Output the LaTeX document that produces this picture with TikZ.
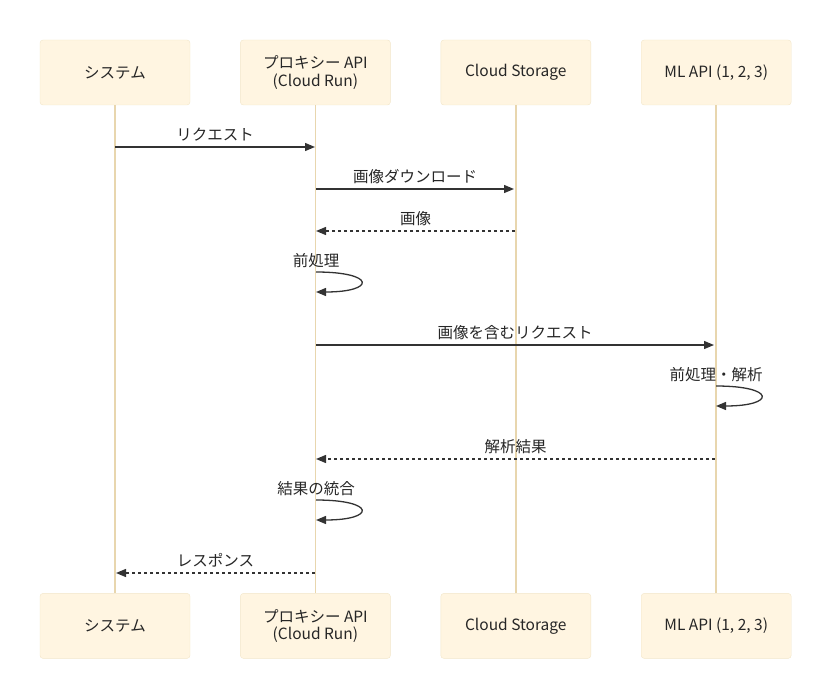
\documentclass[tikz,border=0pt]{standalone}
\usepackage{fontspec}
\setmainfont{Noto Sans CJK JP}
\usepackage{tikz}
\usetikzlibrary{arrows.meta,positioning,calc}

\definecolor{actorfill}{HTML}{FFF5E1}
\definecolor{actorline}{HTML}{F2E6C9}
\definecolor{lifecol}{HTML}{E8D6AE}
\definecolor{msgcol}{HTML}{333333}

\begin{document}
\begin{tikzpicture}[
  x=1pt, y=-1pt,
  actor/.style={rectangle, draw=actorline, fill=actorfill, rounded corners=3pt, minimum width=150pt, minimum height=65pt, align=center, font=\fontsize{15.5}{17.5}\selectfont, text=black!85},
  life/.style={draw=lifecol, line width=1.5pt},
  arrow/.style={-{Triangle[length=10pt,width=8pt]}, line width=1.3pt, draw=msgcol},
  reply/.style={arrow, dash pattern=on 3pt off 3pt},
  msg/.style={font=\fontsize{15.5}{17.5}\selectfont, text=black!85},
]
\useasboundingbox (0,0) rectangle (830,698);

% participants
\node[actor] (sysT) at (115,72.5) {システム};
\node[actor, right=50pt of sysT] (proxyT) {プロキシー API\\(Cloud Run)};
\node[actor, right=50pt of proxyT] (storeT) {Cloud Storage};
\node[actor, right=50pt of storeT] (mlT) {ML API (1, 2, 3)};
\node[actor, below=488pt of sysT] (sysB) {システム};
\node[actor, below=488pt of proxyT] (proxyB) {プロキシー API\\(Cloud Run)};
\node[actor, below=488pt of storeT] (storeB) {Cloud Storage};
\node[actor, below=488pt of mlT] (mlB) {ML API (1, 2, 3)};

\draw[life] (sysT) -- (sysB);
\draw[life] (proxyT) -- (proxyB);
\draw[life] (storeT) -- (storeB);
\draw[life] (mlT) -- (mlB);

% points on the lifelines
\coordinate (s1) at (115,147);  \coordinate (p1) at (315,147);
\coordinate (p2) at (316,189);  \coordinate (c2) at (514,189);
\coordinate (c3) at (515,231);  \coordinate (p3) at (316,231);
\coordinate (p4a) at (316,272); \coordinate (p4b) at (316,292);
\coordinate (p5) at (316,345);  \coordinate (m5) at (714,345);
\coordinate (m6a) at (716,386); \coordinate (m6b) at (716,406);
\coordinate (m7) at (715,459);  \coordinate (p7) at (316,459);
\coordinate (p8a) at (316,500); \coordinate (p8b) at (316,520);
\coordinate (p9) at (315,573);  \coordinate (s9) at (116,573);

% messages
\draw[arrow] (s1) -- node[msg, above=1.5pt] (m1) {リクエスト} (p1);
\draw[arrow] (p2) -- node[msg, above=1.5pt] (m2) {画像ダウンロード} (c2);
\draw[reply] (c3) -- node[msg, above=1.5pt] (m3) {画像} (p3);
\node[msg, above=0.5pt of p4a] (m4) {前処理};
\draw[arrow] (p4a) .. controls +(60,0) and +(60,0) .. (p4b);
\draw[arrow] (p5) -- node[msg, above=1.5pt] (m5l) {画像を含むリクエスト} (m5);
\node[msg, above=0.5pt of m6a] (m6) {前処理・解析};
\draw[arrow] (m6a) .. controls +(60,0) and +(60,0) .. (m6b);
\draw[reply] (m7) -- node[msg, above=1.5pt] (m7l) {解析結果} (p7);
\node[msg, above=0.5pt of p8a] (m8) {結果の統合};
\draw[arrow] (p8a) .. controls +(60,0) and +(60,0) .. (p8b);
\draw[reply] (p9) -- node[msg, above=1.5pt] (m9) {レスポンス} (s9);
\end{tikzpicture}
\end{document}
